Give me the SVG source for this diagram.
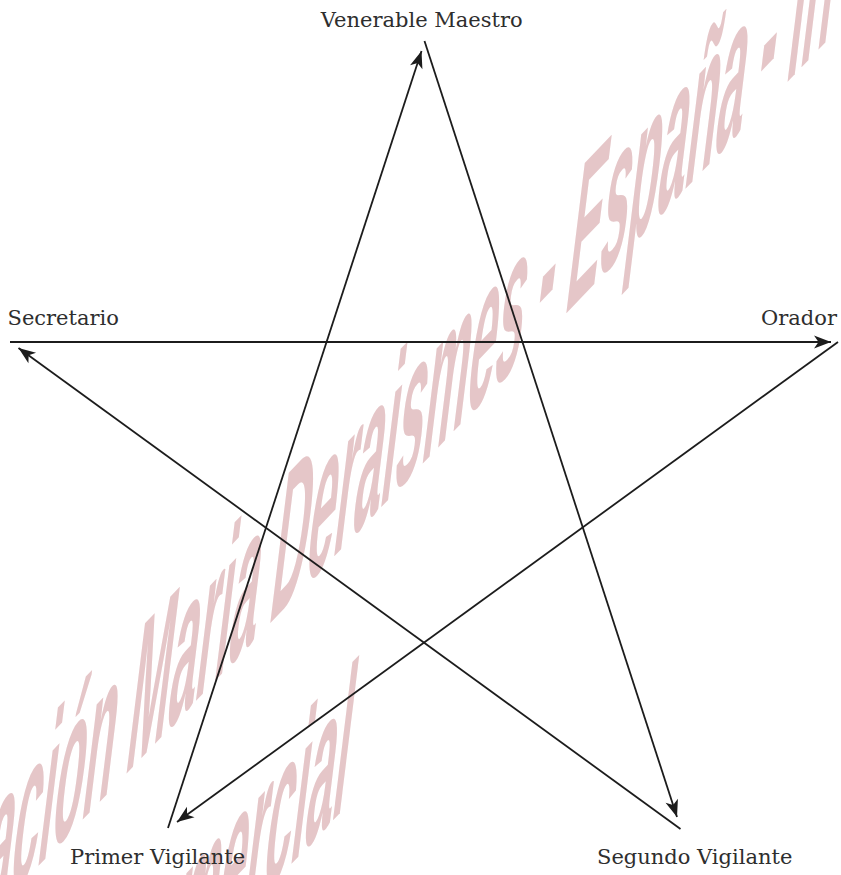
<svg xmlns="http://www.w3.org/2000/svg" width="841" height="875" viewBox="0 0 841 875">
  <style>
    .lbl { font-family: "DejaVu Serif", "Liberation Serif", serif; font-size: 21px; fill: #2e2e2e; }
    .wm { font-family: "Liberation Sans", Arial, sans-serif; font-size: 100px; font-weight: bold; fill: #e5c6c8; }
    .edge { stroke: #1c1c1c; stroke-width: 1.8; fill: none; marker-end: url(#arrow); }
  </style>
  <defs>
    <marker id="arrow" markerUnits="userSpaceOnUse" markerWidth="24" markerHeight="16" viewBox="-20 -8 24 16" refX="0" refY="0" orient="auto">
      <path d="M0,0 L-17,-6.5 L-12.5,0 L-17,6.5 Z" fill="#1c1c1c"/>
    </marker>
  </defs>
  <rect width="841" height="875" fill="#ffffff"/>
  <g id="watermark" transform="matrix(0.4975 -0.5206 -0.268 2.185 -20.4 927.3)">
    <text class="wm" x="0" y="0">ación Maria Deraismes - España - In</text>
    <text class="wm" x="455" y="138">mercial</text>
  </g>
  <g id="connectors">
    <line class="edge" x1="10" y1="342" x2="831" y2="342"/>
    <line class="edge" x1="838" y1="342" x2="177" y2="822"/>
    <line class="edge" x1="168" y1="828" x2="421.5" y2="51"/>
    <line class="edge" x1="424.5" y1="41" x2="677" y2="817"/>
    <line class="edge" x1="680.5" y1="829" x2="18.5" y2="348"/>
  </g>
  <g id="venerable-maestro"><text class="lbl" x="421.7" y="26.5" text-anchor="middle">Venerable Maestro</text></g>
  <g id="secretario"><text class="lbl" x="7.5" y="325">Secretario</text></g>
  <g id="orador"><text class="lbl" x="837" y="325" text-anchor="end">Orador</text></g>
  <g id="primer-vigilante"><text class="lbl" x="70" y="863.5">Primer Vigilante</text></g>
  <g id="segundo-vigilante"><text class="lbl" x="597" y="863.5">Segundo Vigilante</text></g>
</svg>
